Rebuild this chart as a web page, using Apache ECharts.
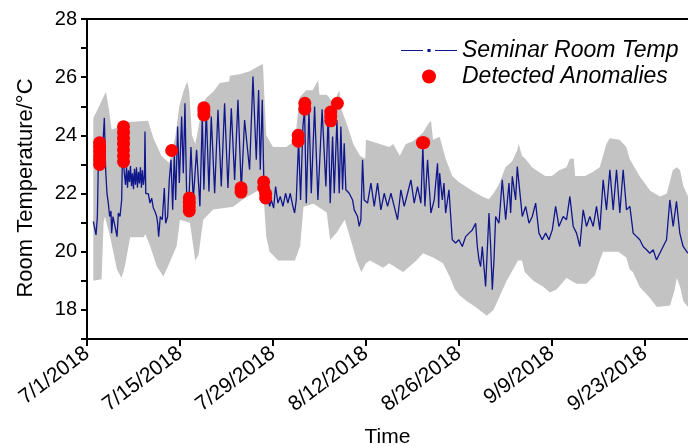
<!DOCTYPE html>
<html>
<head>
<meta charset="utf-8">
<script src="https://cdn.jsdelivr.net/npm/echarts@6/dist/echarts.min.js"></script>
<style>
html,body{margin:0;padding:0;background:#fff;}
#chart{width:688px;height:446px;}
</style>
</head>
<body>
<div id="chart"></div>
<script>
// Days are counted from 7/1/2018 00:00
const tempDays = [0.95,1.2,1.36,1.56,1.7,2.1,2.46,2.61,2.81,3.01,3.21,3.41,3.61,3.71,3.91,4.12,4.32,4.52,4.72,4.97,5.22,5.37,5.62,5.8,5.95,6.1,6.25,6.4,6.55,6.7,6.85,7.0,7.15,7.3,7.45,7.6,7.75,7.9,8.05,8.2,8.35,8.5,8.65,8.73,8.85,9.23,9.48,9.74,9.99,10.24,10.49,10.64,10.79,11.04,11.34,11.64,11.84,12.14,12.39,12.65,12.9,13.15,13.35,13.65,13.9,14.25,14.5,14.75,15.0,15.35,15.65,16.0,16.5,17.0,17.36,17.6,17.96,18.36,18.71,19.22,19.72,20.22,20.72,21.22,21.73,22.23,22.73,23.23,23.73,24.48,24.99,25.49,25.84,26.09,26.39,26.64,26.99,27.24,27.5,27.75,28.1,28.4,28.75,29.1,29.5,29.9,30.25,30.6,31.0,31.26,31.51,31.86,32.16,32.51,32.76,33.02,33.42,33.77,34.27,34.77,35.4,35.97,36.32,36.62,36.98,37.23,37.63,37.98,38.23,38.48,38.73,38.98,39.48,39.99,40.24,40.74,40.99,41.24,41.49,41.74,42.24,42.75,43.25,43.75,44.25,44.75,45.26,45.76,46.26,46.76,47.26,47.76,48.27,48.77,49.27,49.77,50.27,50.57,50.88,51.28,51.78,52.28,52.78,52.95,53.1,53.5,53.75,54.0,54.5,55.0,55.5,56.0,56.51,57.01,57.52,58.02,58.52,58.77,59.02,59.27,59.52,60.02,60.53,60.78,61.03,61.28,61.53,62.03,62.53,63.04,63.54,63.79,64.04,64.54,64.79,65.04,65.54,66.05,66.55,67.05,67.55,68.05,68.55,69.06,69.56,70.06,70.56,71.06,71.7,72.2,72.71,73.21,73.71,74.21,74.71,75.21,75.72,76.22,76.72,77.22,77.72,78.22,78.73,79.23,79.73,80.23,80.73,81.24,81.74,82.24,83.24,83.74,84.25,84.75,85.25,85.75,86.25,86.75,87.26,87.76,88.26,88.76,89.26,89.76,90.47];
const tempValues = [21.04,20.98,20.58,21.2,22.93,23.6,23.96,24.6,22.8,22.0,21.67,21.21,21.4,20.64,21.21,20.98,20.75,20.52,21.33,21.21,21.78,23.73,22.7,22.3,22.9,22.2,22.8,22.4,22.95,22.25,22.7,22.15,22.85,22.3,22.9,22.2,22.75,22.35,22.9,22.2,22.8,22.3,22.6,24.13,22.0,22.0,21.67,21.84,21.5,21.38,21.21,20.98,20.52,21.21,21.1,22.19,20.98,21.21,22.47,23.16,21.44,23.39,21.78,24.3,22.36,24.65,22.7,25.1,22.0,21.78,23.6,21.78,23.5,21.56,24.65,22.13,24.88,22.07,24.65,22.01,24.88,22.24,25.1,22.19,24.93,22.47,25.22,22.13,24.53,22.82,26.02,23.16,25.56,22.82,25.22,22.24,21.67,21.9,21.56,21.78,21.5,22.24,21.67,21.9,21.56,22.01,21.67,22.01,21.56,21.33,21.78,23.85,21.78,24.3,24.88,21.67,24.88,22.01,24.99,21.78,24.9,22.24,24.76,21.67,23.96,22.01,24.53,22.01,24.3,22.13,23.73,22.13,22.01,21.78,21.44,21.21,20.87,21.1,23.16,21.78,21.67,22.36,21.56,22.36,21.44,22.01,21.56,22.01,21.56,21.1,22.13,21.56,22.01,22.47,21.67,22.24,21.67,23.62,21.56,23.16,21.33,21.78,23.04,21.5,22.7,21.78,22.36,21.33,22.13,20.41,20.3,20.41,20.18,20.52,20.64,20.75,20.98,20.18,19.72,19.49,20.18,18.81,21.33,20.18,18.69,19.72,21.21,20.98,22.47,21.1,22.36,21.33,22.59,21.78,22.93,22.36,21.21,21.56,20.98,21.21,21.67,20.64,20.41,20.64,20.41,20.75,21.56,20.87,21.21,21.1,21.9,20.87,20.64,20.18,21.44,20.87,21.21,20.87,21.56,20.75,22.47,21.44,22.82,21.44,22.82,21.33,22.82,21.44,21.56,20.64,20.41,20.18,20.07,19.95,20.07,19.72,19.95,20.18,20.41,21.78,20.87,21.73,20.64,20.18,19.95];

const upperDays = [0.95,1.6,2.85,3.3,3.7,5.0,5.5,9.2,10.0,11.2,12.4,13.3,13.9,14.5,15.1,15.4,15.8,16.3,16.8,17.3,18.0,19.0,20.0,21.4,21.5,23.0,24.5,26.0,26.5,26.75,27.0,28.0,30.0,31.2,31.5,32.0,33.0,34.0,34.8,35.0,36.1,37.1,38.0,38.3,39.1,40.1,41.1,41.9,42.0,44.1,45.5,46.1,47.1,48.0,49.1,50.6,51.4,51.8,52.1,53.1,54.0,55.0,56.0,58.0,59.5,60.5,61.2,62.0,63.0,64.0,64.8,65.0,65.5,66.0,67.0,68.0,69.0,70.0,71.1,72.2,72.7,73.3,73.5,75.0,76.2,77.2,78.2,78.7,80.2,81.2,81.7,83.2,84.8,86.3,87.3,88.2,88.8,89.3,89.8,90.5];
const upperTemps = [24.6,24.9,25.5,24.9,24.2,24.3,24.45,24.5,23.9,23.3,23.05,23.96,25.0,25.5,25.85,25.5,24.0,23.7,24.3,25.0,25.3,25.5,25.8,25.85,26.05,26.1,26.2,26.4,26.45,25.1,24.0,23.6,23.6,23.8,24.2,25.3,25.55,25.55,25.9,25.4,25.4,25.1,25.55,24.9,24.4,23.7,23.3,23.2,23.85,23.7,23.6,23.7,23.3,23.7,23.8,24.1,24.4,24.5,23.85,23.95,23.2,22.6,22.4,22.1,21.9,21.8,22.0,22.3,22.9,23.1,23.5,23.7,23.3,23.2,22.9,22.75,22.6,22.6,22.8,22.9,23.2,23.2,22.6,22.6,22.75,22.9,23.7,23.9,23.85,23.6,23.2,22.6,22.1,21.9,22.0,22.8,22.9,22.8,22.25,21.9];

const lowerDays = [0.95,2.2,2.5,2.7,3.5,4.5,5.2,5.7,6.5,8.5,8.8,9.5,10.5,11.5,12.2,13.5,14.0,15.5,16.3,16.8,17.5,19.0,22.0,23.5,25.0,26.5,27.0,27.5,28.8,31.3,32.1,32.6,34.1,36.1,36.6,37.6,38.8,39.6,40.6,41.3,42.0,42.6,44.6,45.5,46.9,47.6,49.6,50.6,52.1,53.6,54.6,55.4,56.1,57.2,58.5,60.2,61.2,61.7,63.2,64.9,65.5,65.9,67.2,68.7,69.7,70.7,72.2,73.7,75.2,76.5,77.2,77.7,80.0,81.2,81.7,82.2,83.2,84.8,85.8,87.8,88.5,88.8,89.3,89.8,90.5];
const lowerTemps = [19.0,19.05,21.0,21.2,20.5,19.4,19.1,19.5,20.5,20.5,20.6,20.2,19.5,19.15,19.5,20.2,21.1,21.0,19.7,19.9,21.1,21.45,21.55,21.8,22.0,22.2,20.5,20.0,19.7,19.7,20.2,21.55,21.65,21.35,20.4,20.65,21.1,20.5,19.7,19.3,19.6,19.7,19.45,19.6,19.4,19.3,19.7,19.95,19.8,19.6,19.15,18.7,18.5,18.3,18.1,17.8,18.0,18.25,19.0,19.7,19.7,19.3,19.0,18.8,18.6,18.7,19.1,18.9,18.9,19.2,19.7,20.0,20.0,19.8,19.4,19.3,18.8,18.4,18.1,18.15,18.7,19.1,18.8,18.3,18.1];

const anomalyDays = [1.9,1.9,1.9,1.9,1.9,1.9,5.5,5.5,5.5,5.5,5.5,5.5,5.5,12.75,15.4,15.4,15.4,15.4,17.6,17.6,17.6,23.2,23.2,26.6,26.6,26.9,26.9,31.8,31.8,32.8,32.8,36.7,36.7,36.7,37.7,50.5,50.7];
const anomalyTemps = [23.0,23.15,23.3,23.45,23.6,23.75,23.1,23.3,23.5,23.7,23.9,24.1,24.3,23.48,21.4,21.55,21.7,21.85,24.7,24.85,24.95,22.05,22.2,22.4,22.2,22.0,21.85,23.8,24.0,24.9,25.1,24.5,24.65,24.8,25.1,23.75,23.75];

const yTickLabels = [18, 20, 22, 24, 26, 28];
const seriesNames = ['Seminar Room Temp', 'Detected Anomalies'];

const zip = (a, b) => a.map((v, i) => [v, b[i]]);
const baseDate = Date.UTC(2018, 6, 1);
function dayLabel(v) {
  if (Math.abs(v % 14) > 1e-6) return '';
  const d = new Date(baseDate + v * 86400000);
  return (d.getUTCMonth() + 1) + '/' + d.getUTCDate() + '/' + d.getUTCFullYear();
}
const FONT = 'Liberation Sans, Arial, sans-serif';
const lineIcon = 'path://M0,0h0.01v0.01h-0.01Z M56,14h-0.01v-0.01h0.01Z M0,6.4H22V7.6H0Z M26.4,5.4H29.6V8.6H26.4Z M34,6.4H56V7.6H34Z';

const chart = echarts.init(document.getElementById('chart'), null, {renderer: 'canvas'});
chart.setOption({
  animation: false,
  backgroundColor: '#fff',
  textStyle: {fontFamily: FONT},
  grid: {left: 87, top: 19, right: -10, bottom: 107, containLabel: false, outerBoundsMode: 'none'},
  legend: {
    orient: 'vertical', left: 396, top: 34, itemGap: 3,
    itemWidth: 56, itemHeight: 14,
    textStyle: {fontFamily: FONT, fontStyle: 'italic', fontSize: 23, color: '#000'},
    itemStyle: {borderWidth: 0},
    data: [
      {name: seriesNames[0], icon: lineIcon, itemStyle: {color: '#10168c', borderWidth: 0}},
      {name: seriesNames[1], icon: 'circle', itemStyle: {color: '#fe0000', borderWidth: 0}}
    ]
  },
  xAxis: [{
    type: 'value', min: 0, max: 92, interval: 14, position: 'bottom',
    axisLine: {show: true, onZero: false, lineStyle: {color: '#000', width: 2}},
    axisTick: {show: true, length: 7, lineStyle: {color: '#000', width: 2}},
    axisLabel: {rotate: 37, formatter: dayLabel, fontSize: 21, color: '#000', margin: 12, fontFamily: FONT},
    splitLine: {show: false},
    name: 'Time', nameLocation: 'middle', nameGap: 88,
    nameTextStyle: {fontSize: 21, color: '#000', fontFamily: FONT, padding: [0, 10, 0, 0]}
  }, {
    type: 'value', min: 0, max: 92, position: 'top',
    axisLine: {show: true, onZero: false, lineStyle: {color: '#000', width: 2}},
    axisTick: {show: false}, axisLabel: {show: false}, splitLine: {show: false}
  }],
  yAxis: {
    type: 'value', min: 17, max: 28, interval: 1,
    axisLine: {show: true, lineStyle: {color: '#000', width: 2}},
    axisTick: {show: true, length: 6, lineStyle: {color: '#000', width: 2}},
    axisLabel: {formatter: v => (yTickLabels.indexOf(v) >= 0 ? String(v) : ''), fontSize: 20, color: '#000', margin: 10, fontFamily: FONT},
    splitLine: {show: false},
    name: 'Room Temperature/°C', nameLocation: 'middle', nameGap: 50, nameRotate: 90,
    nameTextStyle: {fontSize: 22, color: '#000', fontFamily: FONT, padding: [0, 18, 0, 0]}
  },
  series: [
    {
      type: 'custom', name: 'band', silent: true, z: 1, clip: true,
      data: [[upperDays[0], upperTemps[0]]],
      renderItem: function (params, api) {
        const pts = [];
        for (let i = 0; i < upperDays.length; i++) pts.push(api.coord([upperDays[i], upperTemps[i]]));
        for (let i = lowerDays.length - 1; i >= 0; i--) pts.push(api.coord([lowerDays[i], lowerTemps[i]]));
        return {type: 'polygon', shape: {points: pts}, style: {fill: '#c3c3c3', stroke: null}};
      }
    },
    {
      type: 'line', name: seriesNames[0], z: 3,
      data: zip(tempDays, tempValues),
      symbol: 'rect', symbolSize: 3, showSymbol: false,
      lineStyle: {color: '#10168c', width: 1.3},
      itemStyle: {color: '#10168c'}
    },
    {
      type: 'scatter', name: seriesNames[1], z: 4,
      data: zip(anomalyDays, anomalyTemps),
      symbol: 'circle', symbolSize: 13,
      itemStyle: {color: '#fe0000', opacity: 1}
    }
  ]
});
</script>
</body>
</html>
